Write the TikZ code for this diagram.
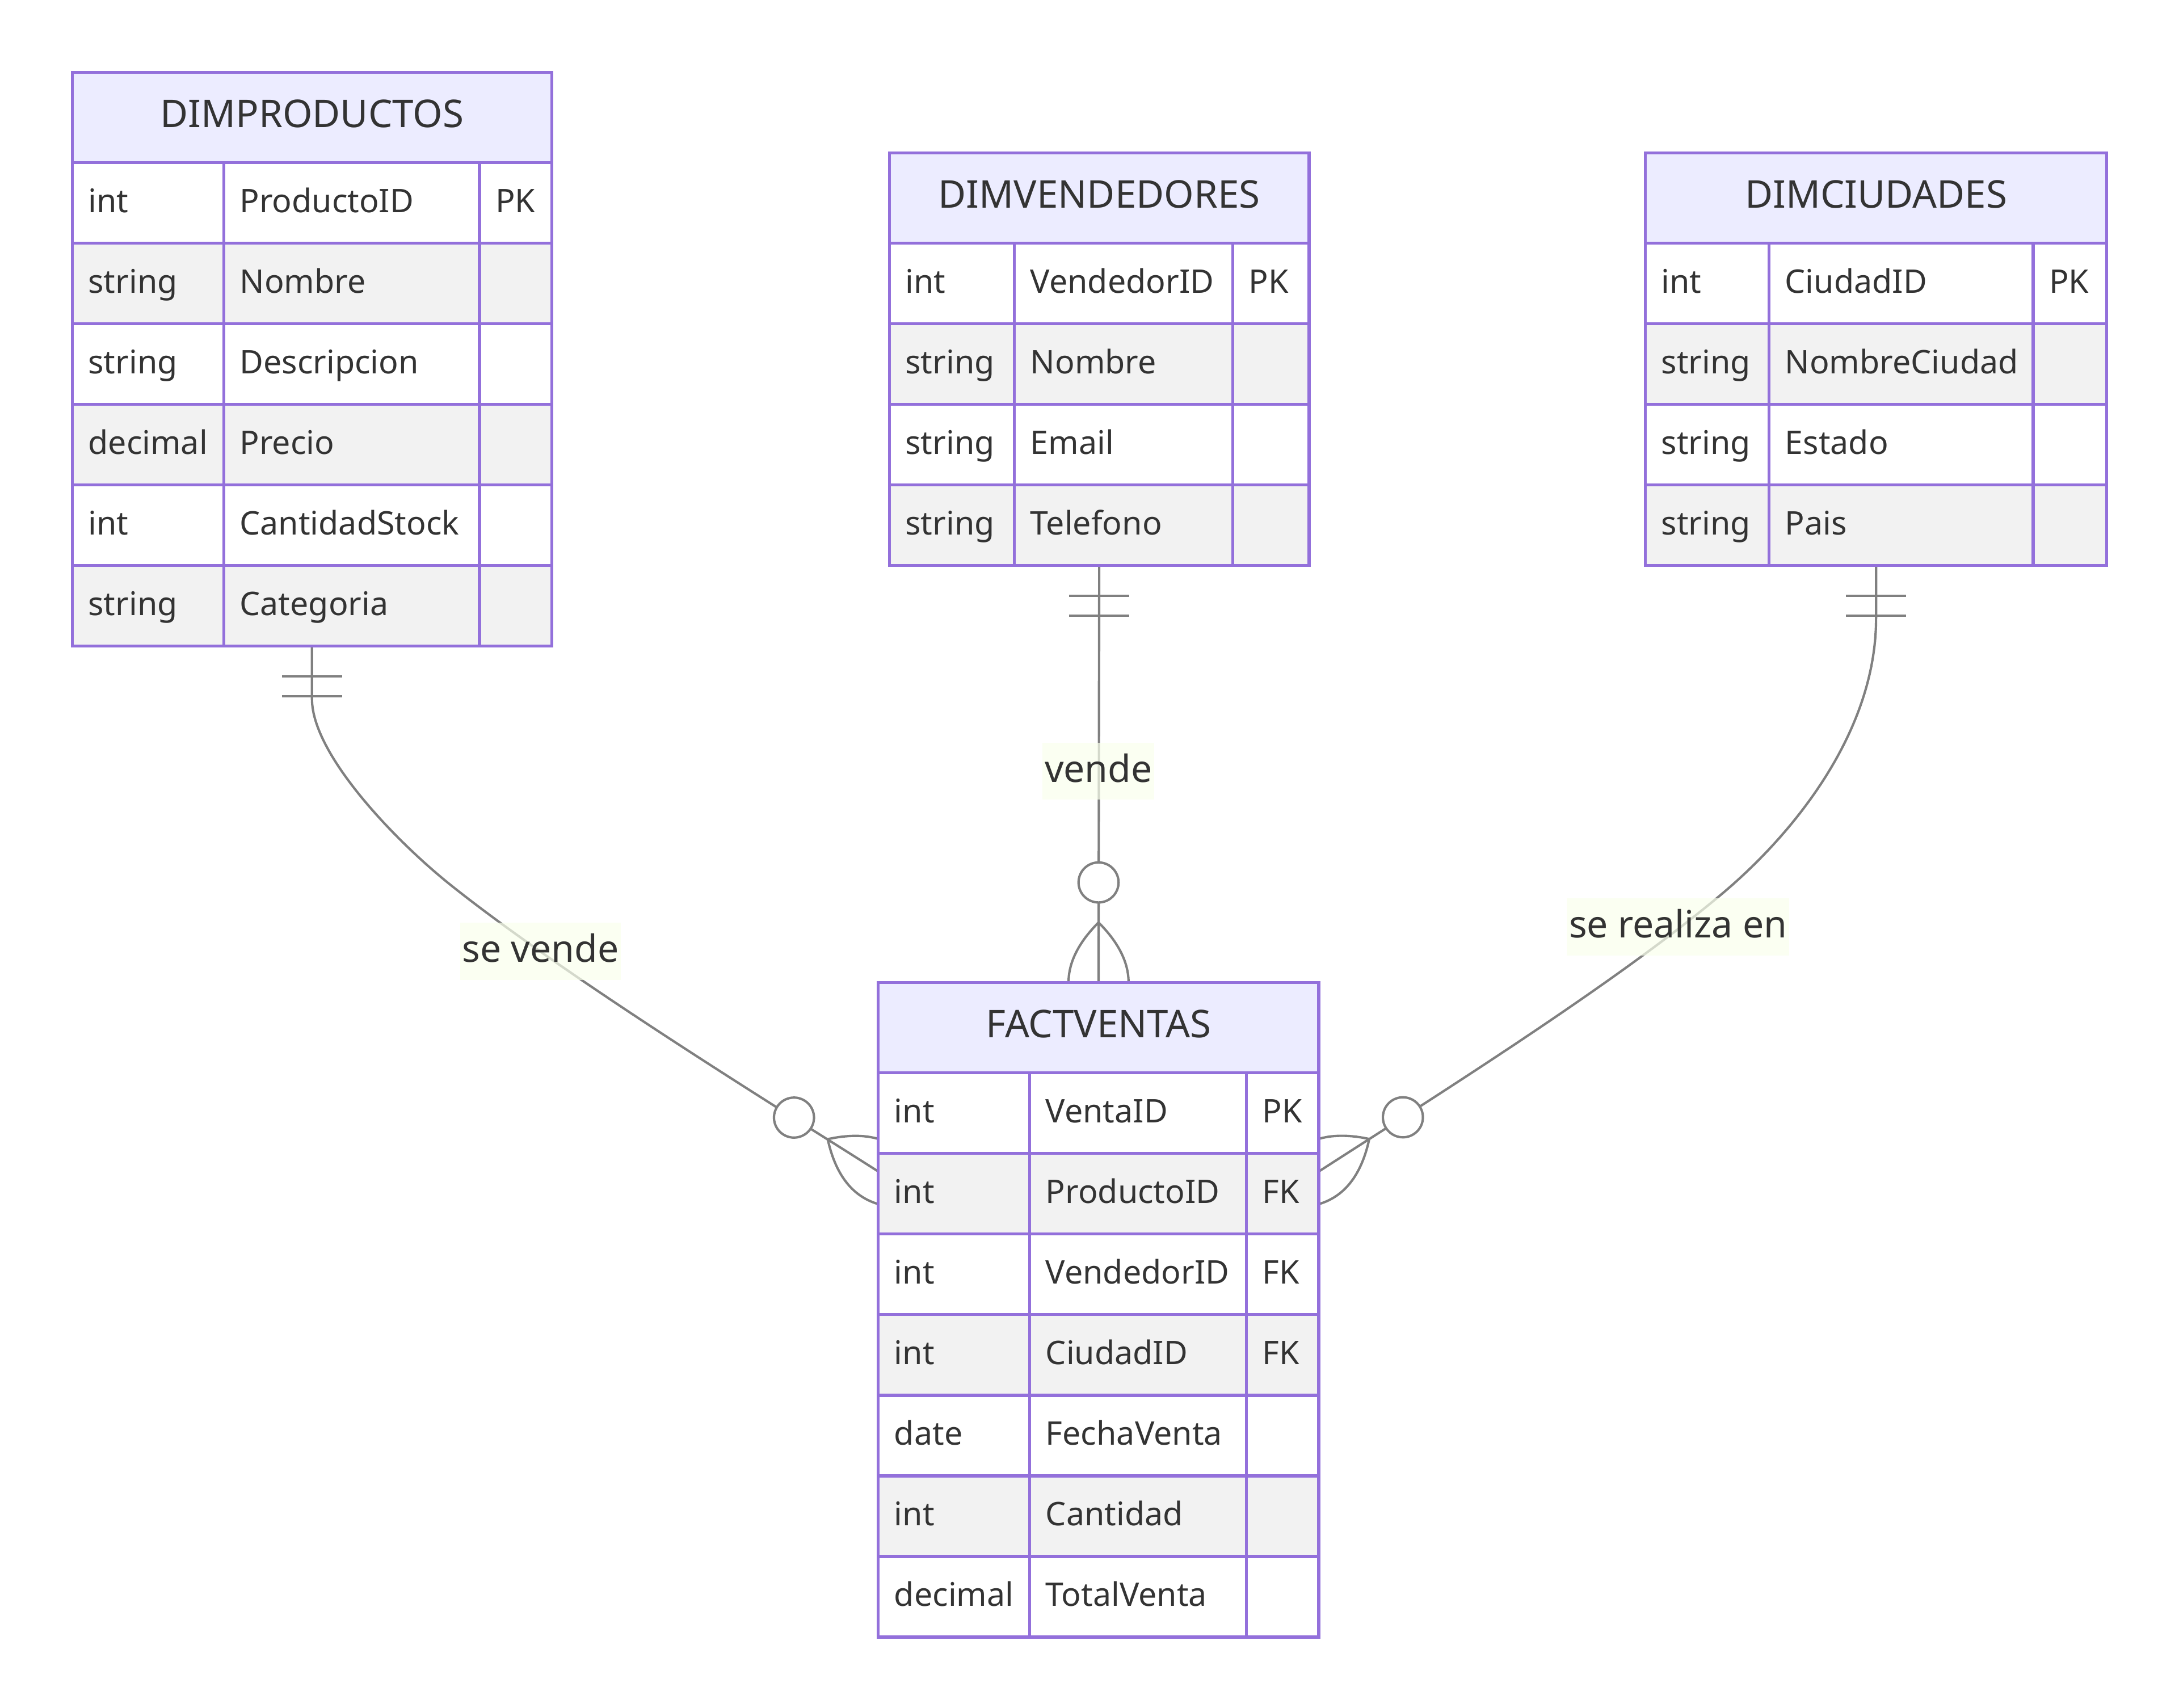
\documentclass[tikz,border=0pt]{standalone}
\usepackage{fontspec}
\setmainfont{Noto Sans}
\usetikzlibrary{calc,backgrounds}
\definecolor{erborder}{HTML}{9370DB}
\definecolor{erhead}{HTML}{ECECFF}
\definecolor{errow}{HTML}{F2F2F2}
\definecolor{ertext}{HTML}{333333}
\definecolor{erlabel}{HTML}{F9FFEC}
\definecolor{erline}{HTML}{808080}
\tikzset{
  entity/.style={draw=erborder, line width=2.2pt, fill=erhead, outer sep=0pt, inner sep=0pt,
    minimum height=65pt, text=ertext, font=\fontsize{27.5}{33}\selectfont,
    text height=17pt, text depth=3pt},
  attr/.style={draw=erborder, line width=2.2pt, outer sep=0pt, inner xsep=11.5pt, inner ysep=0pt,
    minimum height=58pt, align=left, text=ertext, font=\fontsize{23.4}{28}\selectfont,
    text height=15.5pt, text depth=2pt},
  row1/.style={fill=white},
  row0/.style={fill=errow},
  rel/.style={draw=erline, line width=1.7pt},
  rellabel/.style={fill=erlabel, fill opacity=0.7, text opacity=1, text=ertext,
    inner xsep=1.5pt, inner ysep=0pt, minimum height=41pt,
    font=\fontsize{27}{33}\selectfont, text height=20pt, text depth=4.6pt}
}
\newcommand{\erentity}[7]{%
  \node[entity, minimum width=#3+#4+#5, anchor=north west] (#1) at (#2) {#6};
  \foreach \ty/\nm/\ky [count=\i] in {#7} {
    \pgfmathtruncatemacro\rp{mod(\i,2)}
    \node[attr, row\rp, text width=\dimexpr#3pt-23pt\relax, anchor=north west]
      (#1-t\i) at ([yshift=-58pt*(\i-1)]#1.south west) {\ty};
    \node[attr, row\rp, text width=\dimexpr#4pt-23pt\relax, anchor=north west]
      (#1-n\i) at (#1-t\i.north east) {\nm};
    \node[attr, row\rp, text width=\dimexpr#5pt-23pt\relax, anchor=north west]
      (#1-k\i) at (#1-n\i.north east) {\ky};
    \coordinate (#1-bot) at (#1-t\i.south -| #1.south);
  }
}
\newcommand{\onlyone}[1]{%
  \draw[rel] ([shift={(-21.6,21.6)}]#1) -- ++(43.2,0)
    ([shift={(-21.6,36)}]#1) -- ++(43.2,0);
}
\newcommand{\zeromany}[2]{%
  \begin{scope}[shift={(#1)},rotate=#2]
    \draw[rel] (-43.2,0) .. controls (-14.4,-28.8) and (14.4,-28.8) .. (43.2,0)
      .. controls (14.4,28.8) and (-14.4,28.8) .. (-43.2,0);
    \draw[rel,fill=white] (-72,0) circle (14.4);
  \end{scope}
}
\begin{document}
\begin{tikzpicture}[x=1pt,y=-1pt]
  \useasboundingbox (0,0) rectangle (1568,1228.7);
  \erentity{prod}{52,52}{109}{184}{52}{DIMPRODUCTOS}{int/ProductoID/PK, string/Nombre/{},
    string/Descripcion/{}, decimal/Precio/{}, int/CantidadStock/{}, string/Categoria/{}}
  \erentity{vend}{640,110}{90}{157}{55}{DIMVENDEDORES}{int/VendedorID/PK, string/Nombre/{},
    string/Email/{}, string/Telefono/{}}
  \erentity{ciud}{1184,110}{89}{190}{53}{DIMCIUDADES}{int/CiudadID/PK, string/NombreCiudad/{},
    string/Estado/{}, string/Pais/{}}
  \erentity{fact}{632,707}{109}{156}{52}{FACTVENTAS}{int/VentaID/PK, int/ProductoID/FK,
    int/VendedorID/FK, int/CiudadID/FK, date/FechaVenta/{}, int/Cantidad/{}, decimal/TotalVenta/{}}
  \coordinate (e1) at ([yshift=-136pt]fact.north west);
  \coordinate (e3) at ([yshift=-136pt]fact.north east);
  \coordinate (c1) at (324,636.6);
  \coordinate (c3) at (1239.7,642.7);
  \begin{scope}[on background layer]
    \draw[rel] (prod-bot) -- ++(0,38) .. controls +(0,40) and +(-39,-31.2) .. (c1)
      .. controls +(85.9,68.75) and +(-59,-37.7) .. (e1);
    \draw[rel] (vend-bot) -- (fact.north);
    \draw[rel] (ciud-bot) -- ++(0,38) .. controls +(0,80) and +(53.5,-45.2) .. (c3)
      .. controls +(-76.4,64.5) and +(84,-54.2) .. (e3);
    \onlyone{prod-bot}
    \onlyone{vend-bot}
    \onlyone{ciud-bot}
    \zeromany{e1}{-32.6}
    \zeromany{fact.north}{-90}
    \zeromany{e3}{-147.2}
    \node[rellabel] (lprod) at (389,684.5) {se vende};
    \node[rellabel] (lvend) at (790.5,555) {vende};
    \node[rellabel] (lciud) at (1207.5,667) {se realiza en};
  \end{scope}
\end{tikzpicture}
\end{document}
